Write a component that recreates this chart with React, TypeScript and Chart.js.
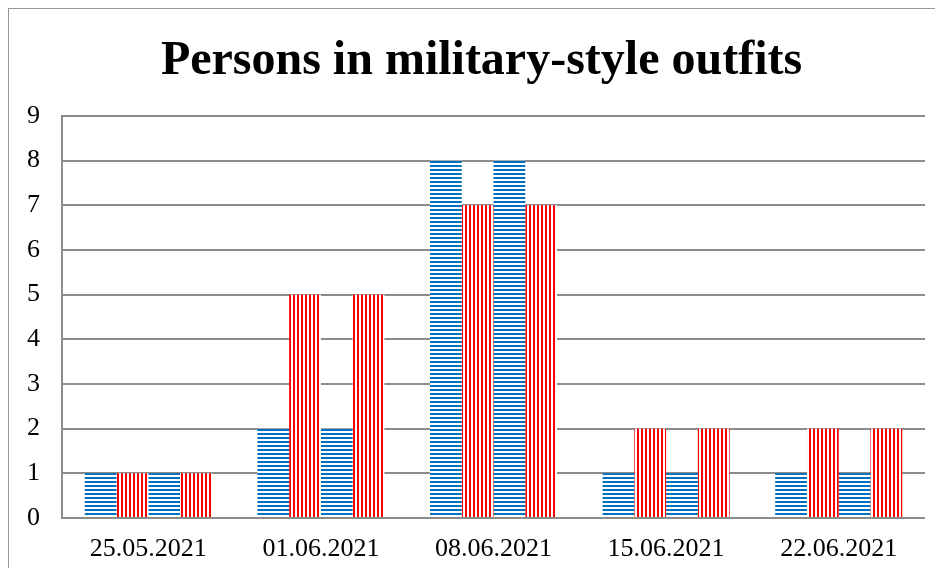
import React, { useEffect, useRef } from "react";
import { Chart, registerables } from "chart.js";

Chart.register(...registerables);

const categories = ["25.05.2021", "01.06.2021", "08.06.2021", "15.06.2021", "22.06.2021"];
const seriesA = [1, 2, 8, 1, 1];
const seriesB = [1, 5, 7, 2, 2];
const seriesC = [1, 2, 8, 1, 1];
const seriesD = [1, 5, 7, 2, 2];
const yTicks = [0, 1, 2, 3, 4, 5, 6, 7, 8, 9];
const titleText = "Persons in military-style outfits";

const SERIF = '"Liberation Serif", "Times New Roman", serif';

function makePattern(kind: "h" | "v", color: string): CanvasPattern | string {
  const c = document.createElement("canvas");
  c.width = 4;
  c.height = 4;
  const ctx = c.getContext("2d");
  if (!ctx) return color;
  ctx.fillStyle = "#ffffff";
  ctx.fillRect(0, 0, 4, 4);
  ctx.fillStyle = color;
  if (kind === "h") ctx.fillRect(0, 0, 4, 2);
  else ctx.fillRect(0, 0, 2, 4);
  const p = ctx.createPattern(c, "repeat");
  return p || color;
}

const titlePlugin = {
  id: "customTitle",
  afterDraw(chart: any) {
    const ctx = chart.ctx;
    ctx.save();
    ctx.font = `bold 48px ${SERIF}`;
    ctx.fillStyle = "#000000";
    ctx.textAlign = "center";
    ctx.textBaseline = "alphabetic";
    ctx.fillText(titleText, 472.5, 64.5);
    ctx.restore();
  },
};

export default function App() {
  const ref = useRef<HTMLCanvasElement | null>(null);
  useEffect(() => {
    if (!ref.current) return;
    const blue = makePattern("h", "#0070C0");
    const red = makePattern("v", "#FF0000");
    const mk = (data: number[], bg: any) => ({
      data,
      backgroundColor: bg,
      borderWidth: 0,
      barPercentage: 1,
      categoryPercentage: 0.736,
    });
    const chart = new Chart(ref.current, {
      type: "bar",
      data: {
        labels: categories,
        datasets: [mk(seriesA, blue), mk(seriesB, red), mk(seriesC, blue), mk(seriesD, red)],
      },
      plugins: [titlePlugin],
      options: {
        animation: false,
        responsive: false,
        devicePixelRatio: 1,
        layout: { padding: { left: 0, right: 18, top: 107, bottom: 10 } },
        plugins: {
          legend: { display: false },
          tooltip: { enabled: false },
          title: { display: false },
        },
        scales: {
          x: {
            grid: { display: false },
            border: { display: false },
            ticks: {
              color: "#000000",
              font: { family: SERIF, size: 26 },
              padding: 8,
              maxRotation: 0,
            },
            afterFit: (s: any) => {
              s.height = 40;
            },
          },
          y: {
            min: 0,
            max: 9,
            afterBuildTicks: (s: any) => {
              s.ticks = yTicks.map((v) => ({ value: v }));
            },
            grid: { color: "#8c8c8c", lineWidth: 2, drawTicks: false },
            border: { display: true, color: "#8c8c8c", width: 2 },
            ticks: {
              color: "#000000",
              font: { family: SERIF, size: 26 },
              padding: 22,
            },
            afterFit: (s: any) => {
              s.width = 53;
            },
          },
        },
      },
    });
    return () => chart.destroy();
  }, []);
  return (
    <div
      style={{
        width: 934,
        height: 559,
        borderLeft: "1px solid #999",
        borderTop: "1px solid #999",
        background: "#fff",
      }}
    >
      <canvas ref={ref} width={934} height={559} style={{ display: "block" }} />
    </div>
  );
}
